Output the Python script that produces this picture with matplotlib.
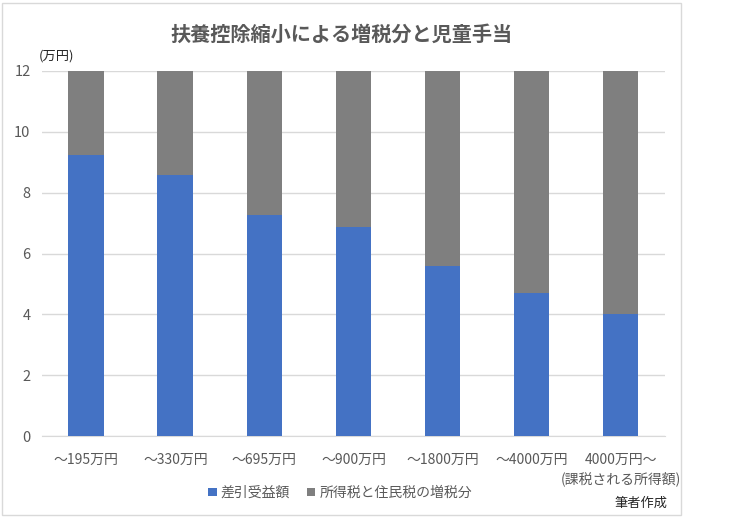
import matplotlib
matplotlib.use("Agg")
import matplotlib.pyplot as plt
from matplotlib.patches import Rectangle
from matplotlib.transforms import blended_transform_factory

plt.rcParams['font.family'] = ['Noto Sans CJK JP', 'DejaVu Sans']

categories = ['～195万円', '～330万円', '～695万円', '～900万円', '～1800万円', '～4000万円', '4000万円～']
last_label_note = '(課税される所得額)'
net_benefit = [9.24, 8.58, 7.27, 6.88, 5.59, 4.69, 4.02]
tax_increase = [2.76, 3.42, 4.73, 5.12, 6.41, 7.31, 7.98]
series_names = ['差引受益額', '所得税と住民税の増税分']
yticks = [0, 2, 4, 6, 8, 10, 12]

blue = '#4472C4'
gray = '#7F7F7F'
txt = '#595959'

fig = plt.figure(figsize=(7.44, 5.20), dpi=100)
fig.patches.append(Rectangle((0.003, 0.01), 0.912, 0.985, transform=fig.transFigure,
                             fill=False, edgecolor='#D9D9D9', linewidth=1.0))
ax = fig.add_axes([0.056, 0.1615, 0.838, 0.702])

x = range(len(categories))
ax.bar(x, net_benefit, width=0.4, color=blue, label=series_names[0], zorder=3)
ax.bar(x, tax_increase, width=0.4, bottom=net_benefit, color=gray, label=series_names[1], zorder=3)

ax.set_ylim(0, 12)
ax.set_xlim(-0.5, len(categories) - 0.5)
ax.set_yticks(yticks)
ax.set_xticks(list(x))
ax.set_xticklabels(categories, fontsize=10, color=txt)
ax.tick_params(axis='y', labelsize=10.5, colors=txt, length=0, pad=8)
ax.tick_params(axis='x', length=0, pad=12, colors=txt)
ax.grid(axis='y', color='#D9D9D9', linewidth=1, zorder=0)
for s in ['top', 'right', 'left']:
    ax.spines[s].set_visible(False)
ax.spines['bottom'].set_color('#D9D9D9')

trans = blended_transform_factory(ax.transData, fig.transFigure)
ax.text(len(categories) - 1, 1 - 479 / 520, last_label_note, transform=trans,
        ha='center', va='center', fontsize=10, color=txt)

fig.text(0.459, 0.935, '扶養控除縮小による増税分と児童手当', ha='center', va='center',
         fontsize=14.5, fontweight='bold', color=txt)
fig.text(0.052, 0.893, '(万円)', ha='left', va='center', fontsize=9.5, color='#262626')
fig.text(0.826, 0.032, '筆者作成', ha='left', va='center', fontsize=9.5, color='#262626')

leg = fig.legend(loc='center', bbox_to_anchor=(0.457, 0.052), ncol=2, frameon=False,
                 fontsize=10, handlelength=0.6, handleheight=0.6, handletextpad=0.3,
                 columnspacing=1.2)
for t in leg.get_texts():
    t.set_color(txt)

fig.savefig('out.png', dpi=100)
